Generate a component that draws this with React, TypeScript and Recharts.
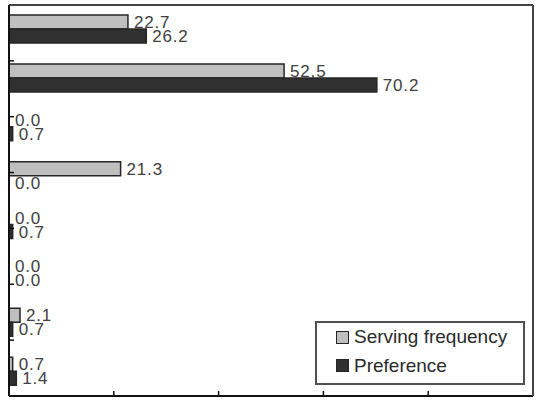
import { BarChart, Bar, XAxis, YAxis, LabelList, Legend, Rectangle } from "recharts";

const rows = ["1", "2", "3", "4", "5", "6", "7", "8"];
const servingFrequency = [22.7, 52.5, 0.0, 21.3, 0.0, 0.0, 2.1, 0.7];
const preference = [26.2, 70.2, 0.7, 0.0, 0.7, 0.0, 0.7, 1.4];
const valueTicks = [0, 20, 40, 60, 80, 100];
const rowEdges = [1, 2, 3, 4, 5, 6, 7];
const seriesOrder = ["Serving frequency", "Preference"];

const data = rows.map((row, i) => ({
  row,
  serving: servingFrequency[i],
  preference: preference[i],
}));

const LIGHT = "#bfbfbf";
const DARK = "#303030";
const EDGE = "#262626";
const font = "'Liberation Sans', Arial, sans-serif";

const labelStyle = { fontSize: 17, fill: "#404040", fontFamily: font, letterSpacing: 0.8 };
const fmt = (v: any) => Number(v).toFixed(1);
const noText = () => "";

// zero values keep their label but draw no rectangle
const barShape = (key: string) => (props: any) =>
  Number(props.payload?.[key]) === 0 ? <g /> : <Rectangle {...props} />;

function LegendBox({ payload }: any) {
  const items = [...(payload || [])].sort(
    (a: any, b: any) => seriesOrder.indexOf(a.value) - seriesOrder.indexOf(b.value)
  );
  return (
    <div
      style={{
        border: "2px solid #505050",
        boxSizing: "border-box",
        width: 210,
        height: 64,
        padding: "0 0 0 19px",
        fontFamily: font,
        fontSize: 19,
        color: "#2a2a2a",
        background: "#fff",
      }}
    >
      {items.map((p: any) => (
        <div key={p.value} style={{ display: "flex", alignItems: "center", height: 28.5 }}>
          <span
            style={{
              width: 13,
              height: 13,
              background: p.color,
              border: `1.5px solid ${EDGE}`,
              boxSizing: "border-box",
              marginRight: 5,
              display: "inline-block",
            }}
          />
          <span>{p.value}</span>
        </div>
      ))}
    </div>
  );
}

export default function App() {
  return (
    <div style={{ position: "absolute", left: 0, top: 0, background: "#fff" }}>
      <BarChart
        width={536}
        height={406}
        data={data}
        layout="vertical"
        barGap={0}
        margin={{ top: 4, right: 2, left: 9, bottom: 10 }}
      >
        <XAxis
          xAxisId="val"
          type="number"
          domain={[0, 100]}
          ticks={valueTicks}
          tickFormatter={noText}
          mirror
          height={1}
          tickSize={5}
          axisLine={{ stroke: "#111", strokeWidth: 2 }}
          tickLine={{ stroke: "#111", strokeWidth: 1.5 }}
        />
        <XAxis
          xAxisId="top"
          orientation="top"
          type="number"
          domain={[0, 100]}
          tick={false}
          tickLine={false}
          height={1}
          axisLine={{ stroke: "#444", strokeWidth: 2 }}
        />
        <YAxis yAxisId="cat" type="category" dataKey="row" hide />
        <YAxis
          yAxisId="edges"
          type="number"
          domain={[0, 8]}
          ticks={rowEdges}
          tickFormatter={noText}
          mirror
          width={1}
          tickSize={5}
          axisLine={{ stroke: "#111", strokeWidth: 2 }}
          tickLine={{ stroke: "#111", strokeWidth: 1.5 }}
        />
        <YAxis
          yAxisId="right"
          orientation="right"
          type="number"
          domain={[0, 8]}
          tick={false}
          tickLine={false}
          width={1}
          axisLine={{ stroke: "#444", strokeWidth: 2 }}
        />
        <Legend
          layout="horizontal"
          align="center"
          verticalAlign="middle"
          content={<LegendBox />}
          wrapperStyle={{ position: "absolute", left: 315, top: 321, width: 210, height: 64 }}
        />
        <Bar
          xAxisId="val"
          yAxisId="cat"
          dataKey="serving"
          name="Serving frequency"
          fill={LIGHT}
          stroke={EDGE}
          strokeWidth={1.5}
          barSize={14}
          minPointSize={0.01}
          shape={barShape("serving")}
          isAnimationActive={false}
        >
          <LabelList dataKey="serving" position="right" offset={6} formatter={fmt} style={labelStyle} />
        </Bar>
        <Bar
          xAxisId="val"
          yAxisId="cat"
          dataKey="preference"
          name="Preference"
          fill={DARK}
          stroke={EDGE}
          strokeWidth={1.5}
          barSize={14}
          minPointSize={0.01}
          shape={barShape("preference")}
          isAnimationActive={false}
        >
          <LabelList dataKey="preference" position="right" offset={6} formatter={fmt} style={labelStyle} />
        </Bar>
      </BarChart>
    </div>
  );
}
